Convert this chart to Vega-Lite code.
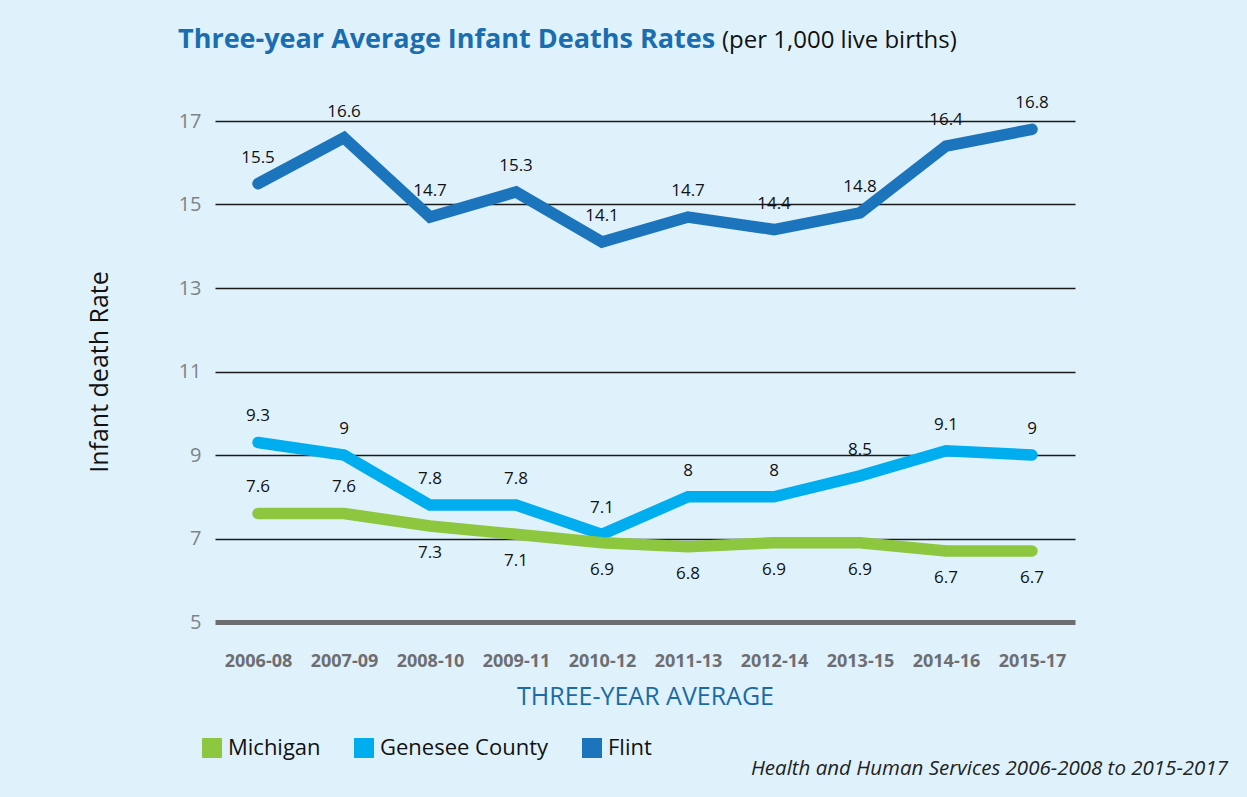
{
  "$schema": "https://vega.github.io/schema/vega-lite/v6.json",
  "background": "#dff2fc",
  "padding": {"left": 87, "top": 26, "right": 31, "bottom": 17},
  "title": {
    "text": "Health and Human Services 2006-2008 to 2015-2017",
    "orient": "bottom",
    "anchor": "end",
    "font": "Open Sans",
    "fontStyle": "italic",
    "fontWeight": "normal",
    "fontSize": 20.5,
    "color": "#222222",
    "dx": 153,
    "offset": 0
  },
  "vconcat": [
    {
      "width": 860,
      "height": 501,
      "title": {
        "text": "Three-year Average Infant Deaths Rates",
        "subtitle": "\u200b\u2003\u2003\u2003\u2003\u2003\u2003\u2003\u2003\u2003\u2003\u2003\u2003\u2003\u2003\u2003\u2003\u2003\u2003\u2003\u2003\u2003\u2003\u2002\u2009(per 1,000 live births)",
        "anchor": "start",
        "frame": "group",
        "dx": -37,
        "font": "Open Sans",
        "fontSize": 27,
        "fontWeight": "bold",
        "color": "#1a6db0",
        "subtitleFont": "Open Sans",
        "subtitleFontSize": 24,
        "subtitleColor": "#111111",
        "subtitlePadding": -25,
        "offset": 40
      },
      "data": {
        "values": [
          {"period": "2006-08", "series": "Flint", "rate": 15.5},
          {"period": "2007-09", "series": "Flint", "rate": 16.6},
          {"period": "2008-10", "series": "Flint", "rate": 14.7},
          {"period": "2009-11", "series": "Flint", "rate": 15.3},
          {"period": "2010-12", "series": "Flint", "rate": 14.1},
          {"period": "2011-13", "series": "Flint", "rate": 14.7},
          {"period": "2012-14", "series": "Flint", "rate": 14.4},
          {"period": "2013-15", "series": "Flint", "rate": 14.8},
          {"period": "2014-16", "series": "Flint", "rate": 16.4},
          {"period": "2015-17", "series": "Flint", "rate": 16.8},
          {"period": "2006-08", "series": "Genesee County", "rate": 9.3},
          {"period": "2007-09", "series": "Genesee County", "rate": 9},
          {"period": "2008-10", "series": "Genesee County", "rate": 7.8},
          {"period": "2009-11", "series": "Genesee County", "rate": 7.8},
          {"period": "2010-12", "series": "Genesee County", "rate": 7.1},
          {"period": "2011-13", "series": "Genesee County", "rate": 8},
          {"period": "2012-14", "series": "Genesee County", "rate": 8},
          {"period": "2013-15", "series": "Genesee County", "rate": 8.5},
          {"period": "2014-16", "series": "Genesee County", "rate": 9.1},
          {"period": "2015-17", "series": "Genesee County", "rate": 9},
          {"period": "2006-08", "series": "Michigan", "rate": 7.6},
          {"period": "2007-09", "series": "Michigan", "rate": 7.6},
          {"period": "2008-10", "series": "Michigan", "rate": 7.3},
          {"period": "2009-11", "series": "Michigan", "rate": 7.1},
          {"period": "2010-12", "series": "Michigan", "rate": 6.9},
          {"period": "2011-13", "series": "Michigan", "rate": 6.8},
          {"period": "2012-14", "series": "Michigan", "rate": 6.9},
          {"period": "2013-15", "series": "Michigan", "rate": 6.9},
          {"period": "2014-16", "series": "Michigan", "rate": 6.7},
          {"period": "2015-17", "series": "Michigan", "rate": 6.7}
        ]
      },
      "encoding": {
        "x": {
          "field": "period",
          "type": "ordinal",
          "sort": null,
          "scale": {"type": "point", "padding": 0.5},
          "axis": {
            "title": "THREE-YEAR AVERAGE",
            "labelAngle": 0,
            "domain": false,
            "ticks": false,
            "grid": false,
            "labelFont": "Open Sans",
            "labelFontWeight": "bold",
            "labelFontSize": 18,
            "labelColor": "#6d6e71",
            "labelPadding": 30,
            "titleFont": "Open Sans",
            "titleFontWeight": "normal",
            "titleFontSize": 25,
            "titleColor": "#1a6aa8",
            "titlePadding": 14
          }
        },
        "y": {
          "field": "rate",
          "type": "quantitative",
          "scale": {"domain": [5, 17], "nice": false, "zero": false},
          "axis": {
            "title": "Infant death Rate",
            "values": [5, 7, 9, 11, 13, 15, 17],
            "domain": false,
            "ticks": false,
            "labelFont": "Open Sans",
            "labelFontSize": 20,
            "labelColor": "#808285",
            "labelPadding": 14,
            "gridColor": {"condition": {"test": "datum.value === 5", "value": "#6d6e71"}, "value": "#1a1a1a"},
            "gridWidth": {"condition": {"test": "datum.value === 5", "value": 5}, "value": 1.4},
            "titleFont": "Open Sans",
            "titleFontWeight": "normal",
            "titleFontSize": 25,
            "titleColor": "#111111",
            "titlePadding": 66
          }
        }
      },
      "layer": [
        {
          "mark": {"type": "line", "strokeWidth": 11.5, "strokeCap": "round", "strokeJoin": "miter"},
          "encoding": {
            "color": {
              "field": "series",
              "type": "nominal",
              "scale": {
                "domain": ["Michigan", "Genesee County", "Flint"],
                "range": ["#8dc63f", "#00aeef", "#1c75bc"]
              },
              "legend": {
                "title": null,
                "orient": "none",
                "legendX": -14,
                "legendY": 616,
                "padding": 0,
                "direction": "horizontal",
                "symbolType": "square",
                "symbolSize": 400,
                "symbolStrokeWidth": 0,
                "labelFont": "Open Sans",
                "labelFontSize": 22,
                "labelColor": "#111111",
                "labelLimit": 400,
                "labelOffset": 5,
                "columnPadding": 32,
                "encode": {
                  "symbols": {
                    "update": {
                      "fill": {"scale": "color", "field": "value"},
                      "fillOpacity": {"value": 1}
                    }
                  }
                }
              }
            },
            "detail": {"field": "series"}
          }
        },
        {
          "transform": [{"filter": "datum.series !== 'Michigan' || datum.period === '2006-08' || datum.period === '2007-09'"}],
          "mark": {"type": "text", "dy": -26, "fontSize": 17, "font": "Open Sans", "color": "#111111"},
          "encoding": {"text": {"field": "rate", "type": "quantitative"}}
        },
        {
          "transform": [{"filter": "datum.series === 'Michigan' && datum.period !== '2006-08' && datum.period !== '2007-09'"}],
          "mark": {"type": "text", "dy": 27, "fontSize": 17, "font": "Open Sans", "color": "#111111"},
          "encoding": {"text": {"field": "rate", "type": "quantitative"}}
        }
      ]
    }
  ],
  "config": {"view": {"stroke": null}, "font": "Open Sans"}
}
